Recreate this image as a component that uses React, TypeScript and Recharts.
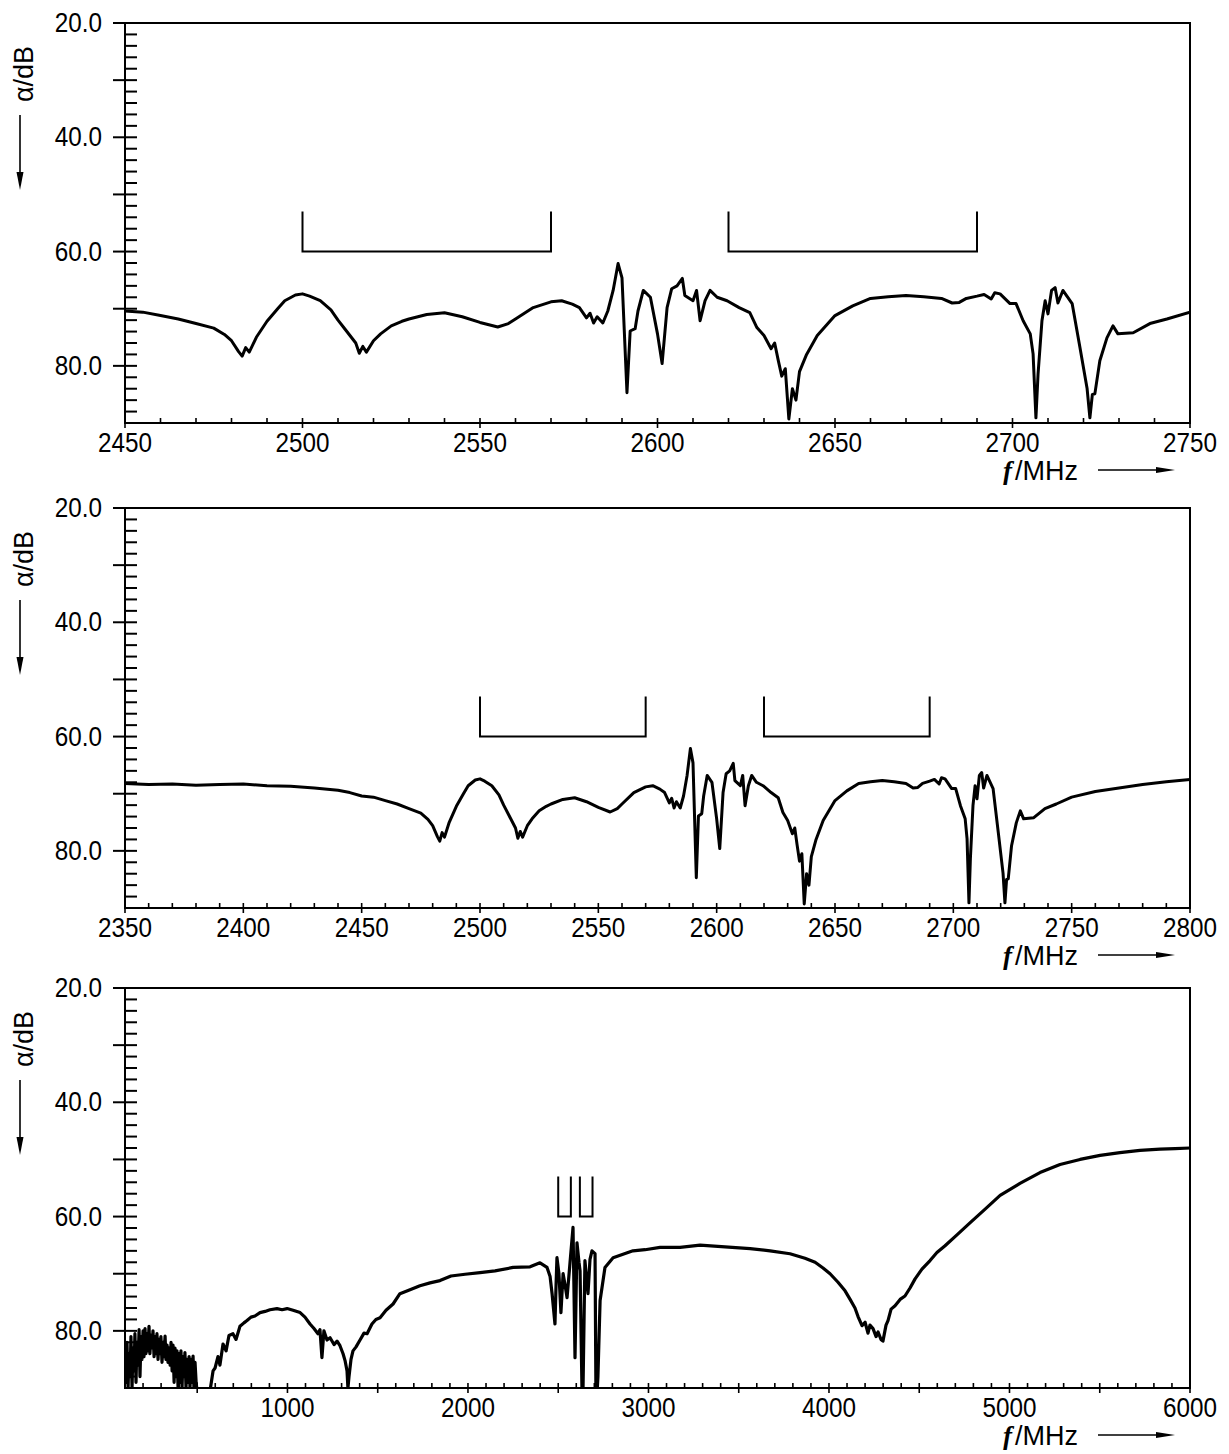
import React from 'react';
import { LineChart, Line, XAxis, YAxis, ReferenceArea } from 'recharts';

// fine sweep 2350..2800 MHz (shown in panels 1 and 2)
const fineFreq = [
  2350, 2360, 2370, 2380, 2390, 2400, 2410, 2420, 2430, 2440, 2445,
  2450, 2455, 2460, 2465, 2470, 2475, 2478, 2480, 2482, 2483, 2484, 2485, 2487, 2490,
  2493, 2495, 2498, 2500, 2502, 2505, 2508, 2510, 2512, 2515, 2516, 2517, 2518, 2520,
  2522, 2525, 2528, 2530, 2535, 2540, 2545, 2550, 2555, 2558, 2560, 2565, 2570, 2573,
  2576, 2578, 2580, 2581, 2582, 2583, 2584.6, 2586, 2587.5, 2588.9, 2590, 2591.4, 2592.3,
  2593.7, 2594.5, 2596, 2598, 2600, 2601.3, 2602.7, 2604, 2605.5, 2607, 2607.7, 2610,
  2611, 2612, 2613.4, 2614.8, 2616.8, 2619.6, 2623, 2626, 2628, 2630, 2632, 2633, 2634,
  2635, 2636, 2637, 2638, 2639, 2640, 2642, 2645, 2650, 2655, 2660, 2665, 2670, 2675,
  2680, 2683, 2685, 2687, 2690, 2692, 2694, 2695, 2696.5, 2699.3, 2701, 2703, 2705,
  2705.8, 2706.6, 2707.2, 2708.3, 2709.2, 2710, 2711, 2712, 2712.8, 2714.2, 2716.8,
  2719, 2721, 2721.8, 2722.5, 2723.2, 2724.6, 2726.6, 2728.3, 2729.7, 2734, 2738.7,
  2743.5, 2750, 2760, 2770, 2780, 2790, 2800,
];
const fineAtt = [
  68.2, 68.4, 68.3, 68.5, 68.4, 68.3, 68.6, 68.7, 69.0, 69.4, 69.8,
  70.4, 70.6, 71.2, 71.8, 72.6, 73.4, 74.5, 75.6, 77.5, 78.3, 76.8, 77.6, 75.0, 72.2,
  70.0, 68.6, 67.6, 67.4, 67.8, 68.6, 70.2, 72.0, 73.6, 76.0, 77.8, 76.6, 77.6, 75.6,
  74.4, 73.0, 72.2, 71.8, 71.0, 70.7, 71.4, 72.4, 73.2, 72.6, 71.8, 69.8, 68.8, 68.6,
  69.2, 69.8, 71.6, 70.8, 72.5, 71.4, 72.5, 70.4, 66.8, 62.1, 64.6, 84.7, 73.9,
  73.5, 70.4, 66.8, 68.0, 74.4, 79.6, 69.8, 66.5, 66.0, 64.7, 67.7, 68.6,
  66.8, 72.1, 68.6, 66.8, 68.0, 68.6, 69.8, 70.7, 73.3, 74.7, 77.0, 76.0, 79.0,
  81.8, 80.5, 89.3, 84.0, 86.0, 81.0, 78.0, 74.7, 71.2, 69.5, 68.2, 67.9, 67.7, 67.9,
  68.2, 69.0, 68.9, 68.2, 67.8, 67.5, 68.3, 67.2, 67.4, 69.1, 69.1, 72.1, 74.4,
  77.9, 89.1, 81.4, 72.1, 68.6, 70.9, 66.8, 66.3, 69.0, 66.8, 69.1,
  76.8, 83.9, 89.1, 85.0, 84.9, 79.1, 75.1, 73.0, 74.4, 74.2, 72.6,
  71.8, 70.6, 69.6, 69.0, 68.4, 67.9, 67.5,
];

// wide sweep 100..6000 MHz (panel 3)
const wideFreq = [
  100, 106, 111, 117, 122, 128, 133, 139, 144, 150, 155, 161, 166, 172, 178, 183, 189, 194,
  200, 205, 211, 216, 222, 227, 233, 238, 244, 250, 255, 261, 266, 272, 277, 283, 288, 294,
  299, 305, 311, 316, 322, 327, 333, 338, 344, 350, 355, 361, 366, 372, 377, 383, 388, 394,
  399, 405, 410, 416, 421, 427, 432, 438, 443, 449, 455, 460, 466, 471, 477, 482, 488, 494,
  499, 543, 571, 588, 599, 615, 626, 643, 660, 676, 698, 715, 737, 759, 776, 798,
  820, 848, 876, 903, 942, 970, 998, 1031, 1070, 1097, 1125, 1147, 1169, 1180, 1191,
  1202, 1219, 1236, 1258, 1275, 1291, 1308, 1319, 1330, 1335, 1341, 1352, 1363, 1380,
  1402, 1424, 1441, 1468, 1490, 1513, 1546, 1585, 1623, 1679, 1734, 1790, 1845, 1906,
  1984, 2067, 2150, 2250, 2344, 2399, 2438, 2455, 2466, 2482, 2488, 2493, 2504, 2515,
  2527, 2538, 2549, 2565, 2582, 2593, 2604, 2615, 2621, 2632, 2637, 2648, 2665, 2676,
  2687, 2704, 2709, 2715, 2720, 2732, 2759, 2804, 2859, 2914, 2981, 3064, 3175, 3286,
  3424, 3563, 3674, 3784, 3867, 3923, 3967, 4006, 4050, 4089, 4117, 4144, 4161, 4183,
  4200, 4216, 4227, 4244, 4261, 4272, 4288, 4299, 4316, 4327, 4344, 4366, 4394, 4421,
  4449, 4477, 4515, 4560, 4598, 4643, 4709, 4781, 4865, 4948, 5058, 5169, 5280, 5391,
  5502, 5612, 5723, 5834, 5917, 6000,
];
const wideAtt = [
  83.5, 89, 82, 90, 84, 88, 81, 90, 83, 87, 80.5, 89, 82, 86, 79.8, 88, 81, 85,
  80, 84.5, 79.6, 84, 80.5, 83.5, 79.2, 84, 80.8, 83, 80, 84.5, 81, 84, 80.5, 85, 81.5, 84,
  81, 85.5, 82, 84.5, 80.9, 85, 82.5, 85.5, 83, 86, 82, 87, 82.5, 89, 83, 88, 83.5, 90,
  84, 89, 83.5, 90, 84.5, 88, 83.8, 90, 85, 89, 84.5, 90, 85, 89, 84.4, 90, 85.5, 89,
  90.5, 91, 90.5, 87, 86.5, 84.5, 86, 82.3, 83.5, 80.8, 80.5, 81.5, 79.2, 78.6, 78.2, 77.6,
  77.4, 76.8, 76.6, 76.3, 76.1, 76.3, 76.1, 76.4, 76.8, 77.6, 78.8, 79.6, 80.5, 79.8, 84.7,
  80.0, 81.6, 81.2, 82.4, 81.8, 82.6, 84.0, 85.2, 87, 90, 88, 85, 83.5, 82.8,
  81.6, 80.4, 80.5, 78.8, 78.0, 77.7, 76.4, 75.3, 73.5, 72.8, 72.1, 71.6, 71.2, 70.4,
  70.1, 69.8, 69.5, 68.9, 68.8, 68.1, 68.9, 70.5, 73.5, 78.8, 72, 67.2, 70, 76.8,
  70, 72, 74.2, 68.2, 61.9, 84.7, 64.6, 68, 69.5, 91, 91, 67.7, 73.5, 67.5,
  66, 66.5, 91, 91, 88, 74.7, 68.9, 67.2, 66.6, 66, 65.8, 65.4, 65.4, 65.0,
  65.3, 65.6, 66.0, 66.5, 67.3, 68.0, 69, 70, 71.5, 73, 74.5, 76, 77.5, 79.1,
  78.5, 80.4, 79, 79.6, 81.0, 80.2, 81.5, 81.8, 79.0, 78.2, 76.2, 75.6, 74.5, 73.9,
  72.5, 70.9, 69.2, 67.7, 66.3, 65.1, 63.2, 61.1, 58.7, 56.3, 54.2, 52.3, 50.9, 50.0,
  49.3, 48.8, 48.4, 48.2, 48.1, 48.0,
];

// mode brackets drawn over the spectra
const bracketFreqs = [[2500, 2570], [2620, 2690]];
const bracketTop = 53;
const bracketBase = 60;

const yDomain = [20, 90];
const yLabelStep = 20;
const yMajorStep = 10;
const yMinorStep = 2;

const fineData = fineFreq.map((f, i) => ({ f, a: fineAtt[i] }));
const wideData = wideFreq.map((f, i) => ({ f, a: wideAtt[i] }));
const bracketData = bracketFreqs.map(([lo, hi]) => [
  { f: lo, a: bracketTop },
  { f: lo, a: bracketBase },
  { f: hi, a: bracketBase },
  { f: hi, a: bracketTop },
]);

const range = (a: number, b: number, s: number) => {
  const out: number[] = [];
  for (let v = a; v <= b + 1e-9; v += s) out.push(Math.round(v * 1000) / 1000);
  return out;
};

const panels = [
  { data: fineData, domain: [2450, 2750], minor: 10, major: 50, label: 50, top: 0, width: 3 },
  { data: fineData, domain: [2350, 2800], minor: 10, major: 50, label: 50, top: 485, width: 3 },
  { data: wideData, domain: [100, 6000], minor: 100, major: 500, label: 1000, top: 965, width: 3.2 },
];

const FONT = 'Liberation Sans, Arial, sans-serif';
const W = 1229;
const H = 485;

function TickText({ x, y, anchor, children }: any) {
  return (
    <g transform={`translate(${x},${y}) scale(0.9,1)`}>
      <text x={0} y={0} textAnchor={anchor} fontFamily={FONT} fontSize={27} fill="#000">
        {children}
      </text>
    </g>
  );
}

function YTick(props: any) {
  const { x, y, payload } = props;
  const v = payload.value;
  if (v >= yDomain[1]) return <g />;
  const major = v % yMajorStep === 0;
  const labeled = v % yLabelStep === 0;
  return (
    <g>
      <line x1={major ? x - 12 : x} x2={x + 12} y1={y} y2={y} stroke="#000" strokeWidth={2} />
      {labeled && <TickText x={x - 23} y={y + 9} anchor="end">{v.toFixed(1)}</TickText>}
    </g>
  );
}

function XTick(props: any) {
  const { x, y, payload, major, label } = props;
  const v = payload.value;
  const isMajor = Math.abs(v % major) < 1e-6;
  const isLabel = Math.abs(v % label) < 1e-6;
  return (
    <g>
      <line x1={x} x2={x} y1={y - 5} y2={isMajor ? y + 5 : y} stroke="#000" strokeWidth={1.6} />
      {isLabel && <TickText x={x} y={y + 29} anchor="middle">{v}</TickText>}
    </g>
  );
}

function AxisTitles() {
  return (
    <svg width={W} height={H} style={{ position: 'absolute', left: 0, top: 0, pointerEvents: 'none' }}>
      <text
        transform="translate(33,74) rotate(-90)"
        textAnchor="middle"
        fontFamily={FONT}
        fontSize={27}
        fill="#000"
      >
        α/dB
      </text>
      <line x1={20} x2={20} y1={115} y2={176} stroke="#000" strokeWidth={1.6} />
      <polygon points="16.5,172 23.5,172 20,190" fill="#000" />
      <text x={1003} y={480} fontSize={27} fill="#000">
        <tspan fontFamily="Liberation Serif, serif" fontStyle="italic" fontWeight="bold">f</tspan>
        <tspan fontFamily={FONT} dx={3}>/MHz</tspan>
      </text>
      <line x1={1098} x2={1160} y1={470} y2={470} stroke="#000" strokeWidth={1.6} />
      <polygon points="1156,467 1156,473 1175,470" fill="#000" />
    </svg>
  );
}

function Panel({ p }: any) {
  const xTicks = range(p.domain[0], p.domain[1], p.minor);
  const yTicks = range(yDomain[0], yDomain[1], yMinorStep);
  return (
    <div style={{ position: 'absolute', left: 0, top: p.top, width: W, height: H }}>
      <LineChart width={W} height={H} data={p.data} margin={{ top: 23, right: 39, bottom: 2, left: 10 }}>
        <XAxis
          type="number"
          dataKey="f"
          domain={p.domain}
          allowDataOverflow
          ticks={xTicks}
          interval={0}
          height={60}
          tickSize={0}
          tickMargin={0}
          axisLine={{ stroke: '#000', strokeWidth: 2 }}
          tickLine={false}
          tick={(t: any) => <XTick {...t} major={p.major} label={p.label} />}
        />
        <YAxis
          type="number"
          dataKey="a"
          domain={yDomain}
          reversed
          allowDataOverflow
          ticks={yTicks}
          interval={0}
          width={115}
          tickSize={0}
          tickMargin={0}
          axisLine={{ stroke: '#000', strokeWidth: 2 }}
          tickLine={false}
          tick={(t: any) => <YTick {...t} />}
        />
        <ReferenceArea
          x1={p.domain[0]}
          x2={p.domain[1]}
          y1={yDomain[0]}
          y2={yDomain[1]}
          fill="none"
          fillOpacity={0}
          stroke="#000"
          strokeWidth={2}
          ifOverflow="visible"
        />
        {bracketData.map((bd, i) => (
          <Line
            key={i}
            data={bd}
            dataKey="a"
            stroke="#000"
            strokeWidth={2}
            dot={false}
            isAnimationActive={false}
          />
        ))}
        <Line
          type="linear"
          dataKey="a"
          stroke="#000"
          strokeWidth={p.width}
          strokeLinejoin="round"
          dot={false}
          isAnimationActive={false}
        />
      </LineChart>
      <AxisTitles />
    </div>
  );
}

export default function App() {
  return (
    <div style={{ position: 'absolute', left: 0, top: 0, width: W, height: 1454, background: '#fff' }}>
      {panels.map((p, i) => (
        <Panel key={i} p={p} />
      ))}
    </div>
  );
}
